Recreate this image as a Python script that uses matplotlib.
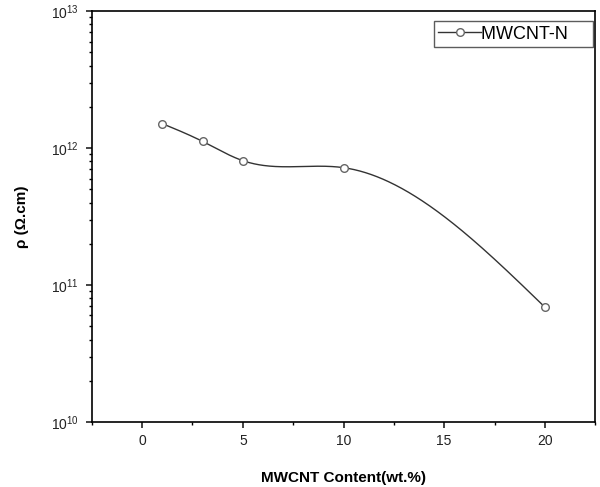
import numpy as np
import matplotlib.pyplot as plt

plt.rcParams['font.family'] = ['Liberation Sans', 'DejaVu Sans']
plt.rcParams['mathtext.fontset'] = 'custom'
plt.rcParams['mathtext.rm'] = 'Liberation Sans'

# data
content = [1, 3, 5, 10, 20]
resistivity = [1.51e12, 1.12e12, 8.1e11, 7.2e11, 6.9e10]
series_name = 'MWCNT-N'


def natural_spline(x, y, xs):
    # natural cubic spline through (x, y), evaluated at xs
    x = np.asarray(x, float)
    y = np.asarray(y, float)
    n = len(x)
    h = np.diff(x)
    A = np.zeros((n, n))
    b = np.zeros(n)
    A[0, 0] = A[-1, -1] = 1
    for i in range(1, n - 1):
        A[i, i - 1] = h[i - 1]
        A[i, i] = 2 * (h[i - 1] + h[i])
        A[i, i + 1] = h[i]
        b[i] = 3 * ((y[i + 1] - y[i]) / h[i] - (y[i] - y[i - 1]) / h[i - 1])
    c = np.linalg.solve(A, b)
    idx = np.clip(np.searchsorted(x, xs) - 1, 0, n - 2)
    dx = xs - x[idx]
    bb = (y[idx + 1] - y[idx]) / h[idx] - h[idx] * (2 * c[idx] + c[idx + 1]) / 3
    dd = (c[idx + 1] - c[idx]) / (3 * h[idx])
    return y[idx] + bb * dx + c[idx] * dx**2 + dd * dx**3


fig = plt.figure(figsize=(6.0, 4.87), dpi=100)
ax = fig.add_axes([0.153, 0.1335, 0.839, 0.8435])

xs = np.linspace(content[0], content[-1], 400)
ys = 10 ** natural_spline(content, np.log10(resistivity), xs)
ax.plot(xs, ys, color='#333333', lw=1.0, zorder=2)
ax.plot(content, resistivity, ls='none', marker='o', ms=5.5, mfc='white',
        mec='#666666', mew=1.0, zorder=3)
# legend proxy: line - marker - line
ax.plot([], [], color='#333333', lw=1.0, marker='o', ms=5.5, mfc='white',
        mec='#666666', mew=1.0, label=series_name + '    ')

ax.set_yscale('log')
ax.set_ylim(1e10, 1e13)
ax.set_xlim(-2.5, 22.5)
ax.set_xticks([0, 5, 10, 15, 20])
ax.set_xticks(np.arange(-2.5, 23, 2.5), minor=True)

for s in ax.spines.values():
    s.set_linewidth(1.2)
ax.tick_params(which='major', direction='out', length=4, width=1.2,
               labelsize=10, colors='#222222', top=False, right=False, pad=5)
ax.tick_params(which='minor', direction='out', length=2.5, width=1.0,
               top=False, right=False)

ax.set_xlabel('MWCNT Content(wt.%)', fontsize=11, fontweight='bold')
ax.xaxis.set_label_coords(0.5, -0.12)
ax.set_ylabel('ρ (Ω.cm)', fontsize=11, fontweight='bold', labelpad=16)

leg = ax.legend(loc='upper right', bbox_to_anchor=(0.9954, 0.976),
                fontsize=13, fancybox=False, frameon=True,
                edgecolor='#333333', borderaxespad=0.0, handlelength=2.4,
                handletextpad=0.0, borderpad=0.25)
leg.get_frame().set_linewidth(1.0)

plt.savefig('out.png', dpi=100)
